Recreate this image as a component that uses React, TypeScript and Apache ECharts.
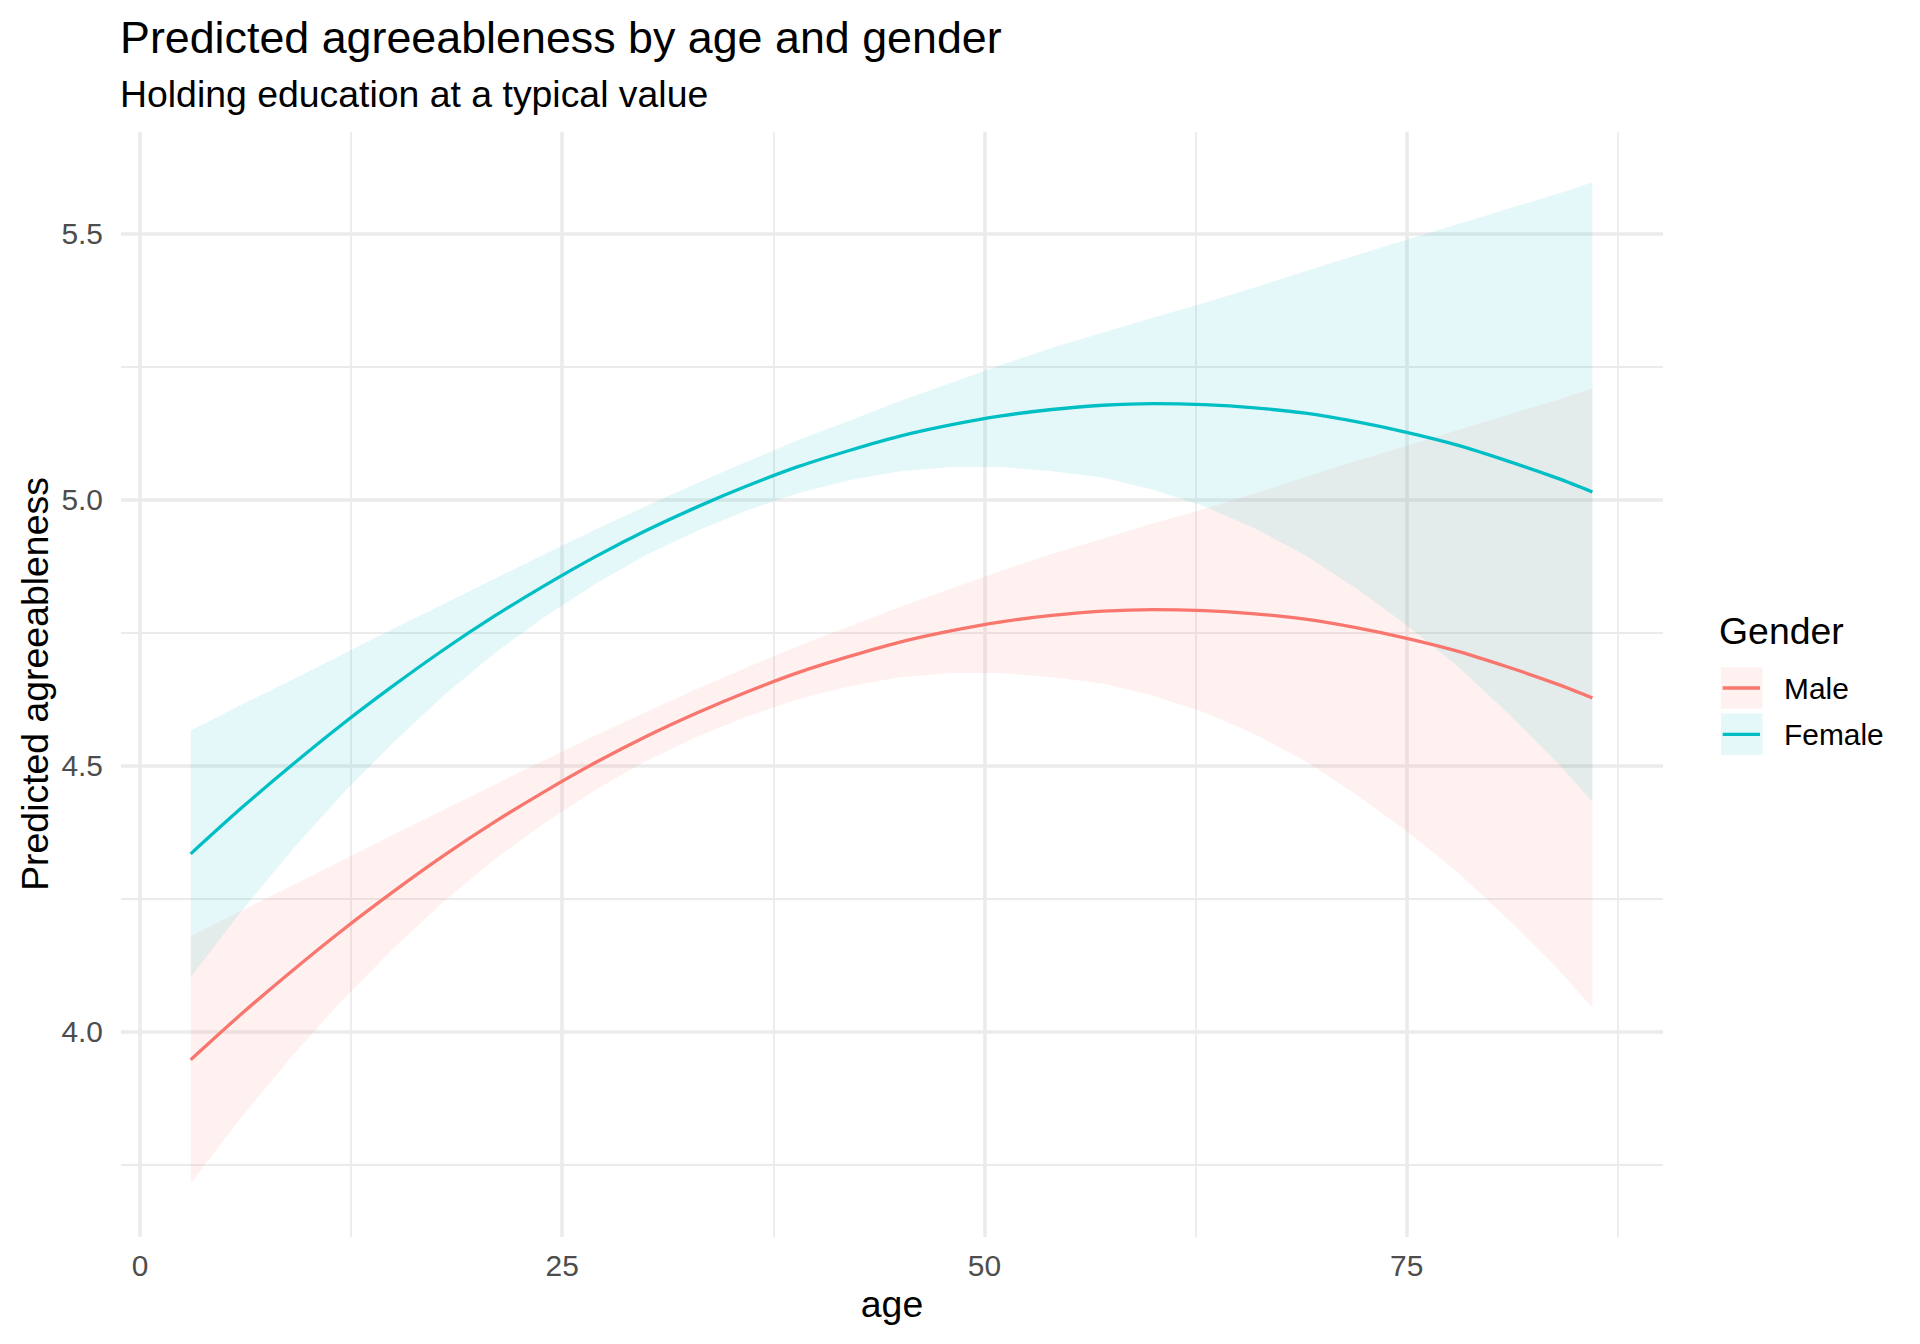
import React, { useEffect, useRef } from "react";
import * as echarts from "echarts";

// ---- data ----
const ages = [3, 6, 9, 12, 15, 18, 21, 24, 27, 30, 33, 36, 39, 42, 45, 48, 51, 54, 57, 60, 63, 66, 69, 72, 75, 78, 81, 84, 86];

const femaleFit = [4.334, 4.42, 4.501, 4.578, 4.65, 4.718, 4.781, 4.839, 4.893, 4.942, 4.986, 5.026, 5.062, 5.092, 5.119, 5.14, 5.157, 5.169, 5.177, 5.18, 5.178, 5.172, 5.162, 5.146, 5.126, 5.102, 5.072, 5.039, 5.014];
const femaleLower = [4.102, 4.226, 4.341, 4.447, 4.543, 4.632, 4.711, 4.78, 4.842, 4.896, 4.941, 4.98, 5.012, 5.036, 5.053, 5.061, 5.061, 5.053, 5.041, 5.018, 4.987, 4.946, 4.895, 4.833, 4.764, 4.687, 4.598, 4.503, 4.432];
const femaleUpper = [4.566, 4.614, 4.661, 4.709, 4.757, 4.804, 4.851, 4.898, 4.944, 4.988, 5.031, 5.072, 5.112, 5.148, 5.185, 5.219, 5.253, 5.285, 5.313, 5.342, 5.369, 5.398, 5.429, 5.459, 5.488, 5.517, 5.546, 5.575, 5.596];

const maleFit = [3.947, 4.033, 4.114, 4.191, 4.263, 4.331, 4.394, 4.452, 4.506, 4.555, 4.599, 4.639, 4.675, 4.705, 4.732, 4.753, 4.77, 4.782, 4.79, 4.793, 4.791, 4.785, 4.775, 4.759, 4.739, 4.715, 4.685, 4.652, 4.627];
const maleLower = [3.715, 3.839, 3.954, 4.06, 4.156, 4.245, 4.324, 4.393, 4.455, 4.509, 4.554, 4.593, 4.625, 4.649, 4.666, 4.674, 4.674, 4.666, 4.654, 4.631, 4.6, 4.559, 4.508, 4.446, 4.377, 4.3, 4.211, 4.116, 4.045];
const maleUpper = [4.179, 4.227, 4.274, 4.322, 4.37, 4.417, 4.464, 4.511, 4.557, 4.601, 4.644, 4.685, 4.725, 4.761, 4.798, 4.832, 4.866, 4.898, 4.926, 4.955, 4.982, 5.011, 5.042, 5.072, 5.101, 5.13, 5.159, 5.188, 5.209];

const xTicks = [0, 25, 50, 75];
const xMinorTicks = [12.5, 37.5, 62.5, 87.5];
const yTicks = [4.0, 4.5, 5.0, 5.5];
const yMinorTicks = [3.75, 4.25, 4.75, 5.25];

const legendLabels = ["Male", "Female"];
const COLORS = ["#F8766D", "#00BFC4"];
const FILLS = ["rgba(248,118,109,0.1)", "rgba(0,191,196,0.1)"];

const FONT = "'Liberation Sans', Arial, Helvetica, sans-serif";
const GRID = "#EBEBEB";
const BASE = 37.4;
const SMALL = 29.9;

function bandSeries(lower: number[], upper: number[], fill: string) {
  return {
    type: "custom",
    silent: true,
    z: 2,
    clip: true,
    data: ages.map((a, i) => [a, lower[i], upper[i]]),
    encode: { x: 0, y: [1, 2] },
    renderItem: (params: any, api: any) => {
      if (params.dataIndex !== 0) return null;
      const pts: number[][] = [];
      for (let i = 0; i < ages.length; i++) pts.push(api.coord([ages[i], upper[i]]));
      for (let i = ages.length - 1; i >= 0; i--) pts.push(api.coord([ages[i], lower[i]]));
      return { type: "polygon", shape: { points: pts }, style: { fill, stroke: "none" } };
    },
  };
}

function lineSeries(name: string, vals: number[], color: string) {
  return {
    type: "line",
    name,
    z: 3,
    silent: true,
    showSymbol: false,
    smooth: 0.3,
    data: ages.map((a, i) => [a, vals[i]]),
    lineStyle: { color, width: 3.3 },
  };
}

export default function App() {
  const ref = useRef<HTMLDivElement>(null);
  useEffect(() => {
    document.body.style.margin = "0";
    const chart = echarts.init(ref.current!, null, { renderer: "svg" });

    const major = { width: 3.6, color: GRID, type: "solid" };
    const minor = { width: 1.8, color: GRID, type: "solid" };

    const legendGraphics: any[] = [
      {
        type: "text",
        x: 1719,
        y: 631,
        style: { text: "Gender", fontSize: BASE, fontFamily: FONT, fill: "#000", align: "left", verticalAlign: "middle" },
      },
    ];
    legendLabels.forEach((lab, i) => {
      const cy = 688 + i * 46.3;
      legendGraphics.push(
        { type: "rect", shape: { x: 1721, y: cy - 20.8, width: 41.5, height: 41.5 }, style: { fill: FILLS[i] } },
        { type: "line", shape: { x1: 1722.7, y1: cy, x2: 1760, y2: cy }, style: { stroke: COLORS[i], lineWidth: 3.3 } },
        {
          type: "text",
          x: 1784,
          y: cy,
          style: { text: lab, fontSize: SMALL, fontFamily: FONT, fill: "#000", align: "left", verticalAlign: "middle" },
        }
      );
    });

    const option: any = {
      animation: false,
      backgroundColor: "#fff",
      grid: { left: 121, right: 257, top: 131.7, bottom: 107 },
      xAxis: {
        type: "value",
        min: -1.125,
        max: 90.18,
        axisLine: { show: false },
        axisTick: { show: false },
        splitLine: { show: false },
        axisLabel: {
          customValues: xTicks,
          formatter: (v: number) => String(v),
          fontSize: SMALL,
          fontFamily: FONT,
          color: "#4D4D4D",
          margin: 13,
        },
      },
      yAxis: {
        type: "value",
        min: 3.614,
        max: 5.691,
        axisLine: { show: false },
        axisTick: { show: false },
        splitLine: { show: false },
        axisLabel: {
          customValues: yTicks,
          formatter: (v: number) => v.toFixed(1),
          fontSize: SMALL,
          fontFamily: FONT,
          color: "#4D4D4D",
          margin: 18,
        },
      },
      series: [
        {
          type: "line",
          z: 1,
          silent: true,
          showSymbol: false,
          data: [[0, 4]],
          lineStyle: { width: 0 },
          markLine: {
            silent: true,
            z: 1,
            symbol: ["none", "none"],
            label: { show: false },
            emphasis: { disabled: true },
            data: [
              ...xMinorTicks.map((v) => ({ xAxis: v, lineStyle: minor })),
              ...yMinorTicks.map((v) => ({ yAxis: v, lineStyle: minor })),
              ...xTicks.map((v) => ({ xAxis: v, lineStyle: major })),
              ...yTicks.map((v) => ({ yAxis: v, lineStyle: major })),
            ],
          },
        },
        bandSeries(maleLower, maleUpper, FILLS[0]),
        bandSeries(femaleLower, femaleUpper, FILLS[1]),
        lineSeries("Male", maleFit, COLORS[0]),
        lineSeries("Female", femaleFit, COLORS[1]),
      ],
      graphic: [
        {
          type: "text",
          x: 120,
          y: 36.5,
          style: { text: "Predicted agreeableness by age and gender", fontSize: 44.8, fontFamily: FONT, fill: "#000", align: "left", verticalAlign: "middle" },
        },
        {
          type: "text",
          x: 120,
          y: 93.5,
          style: { text: "Holding education at a typical value", fontSize: BASE, fontFamily: FONT, fill: "#000", align: "left", verticalAlign: "middle" },
        },
        {
          type: "text",
          x: 892,
          y: 1304,
          style: { text: "age", fontSize: BASE, fontFamily: FONT, fill: "#000", align: "center", verticalAlign: "middle" },
        },
        {
          type: "text",
          x: 34.5,
          y: 684,
          rotation: Math.PI / 2,
          style: { text: "Predicted agreeableness", fontSize: BASE, fontFamily: FONT, fill: "#000", align: "center", verticalAlign: "middle" },
        },
        ...legendGraphics,
      ],
    };
    chart.setOption(option);
    return () => chart.dispose();
  }, []);
  return <div ref={ref} style={{ width: 1920, height: 1344 }} />;
}
